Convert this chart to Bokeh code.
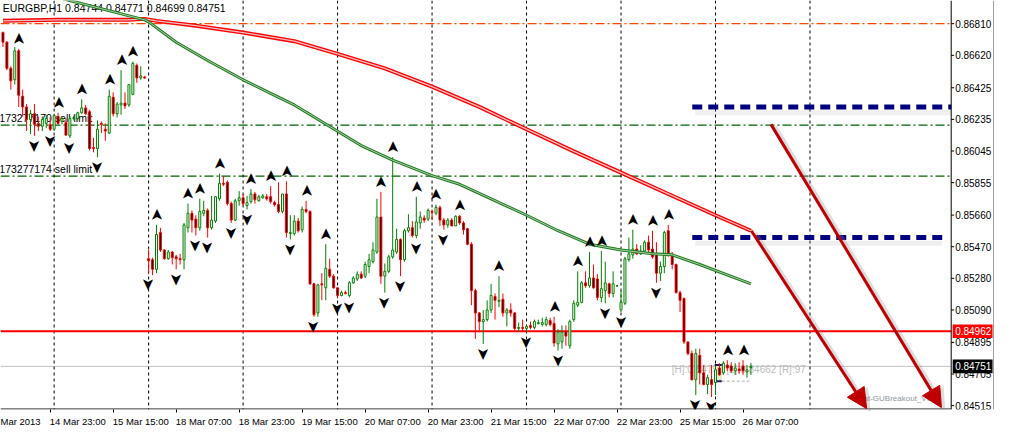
import math
from bokeh.plotting import figure
from bokeh.models import (Range1d, LinearAxis, FixedTicker, Arrow, NormalHead, Span,
                          ColumnDataSource)
from bokeh.core.properties import value
from bokeh.embed import file_html
from bokeh.resources import INLINE

symbol = "EURGBP,H1"

# ---------------- OHLC data (hourly bars, 14 Mar 2013 11:00 .. 26 Mar 2013 09:00) -------------
open_ = [
    0.86757, 0.86699, 0.86542, 0.86473, 0.86647, 0.86374, 0.86310, 0.86234, 0.86269, 0.86211,
    0.86194, 0.86211, 0.86205, 0.86176, 0.86252, 0.86223, 0.86217, 0.86136, 0.86240, 0.86240,
    0.86275, 0.86304, 0.86281, 0.86066, 0.86060, 0.86211, 0.86176, 0.86153, 0.86368, 0.86269,
    0.86322, 0.86333, 0.86322, 0.86385, 0.86560, 0.86484, 0.86490, 0.85398, 0.85392, 0.85334,
    0.85555, 0.85450, 0.85398, 0.85438, 0.85409, 0.85398, 0.85392, 0.85584, 0.85671, 0.85636,
    0.85584, 0.85671, 0.85688, 0.85584, 0.85624, 0.85758, 0.85851, 0.85857, 0.85729, 0.85630,
    0.85746, 0.85764, 0.85717, 0.85741, 0.85787, 0.85746, 0.85764, 0.85770, 0.85770, 0.85735,
    0.85723, 0.85682, 0.85787, 0.85549, 0.85549, 0.85624, 0.85572, 0.85694, 0.85682, 0.85247,
    0.85072, 0.85247, 0.85223, 0.85334, 0.85293, 0.85223, 0.85177, 0.85194, 0.85177, 0.85253,
    0.85276, 0.85305, 0.85293, 0.85351, 0.85380, 0.85438, 0.85648, 0.85293, 0.85322, 0.85409,
    0.85438, 0.85514, 0.85392, 0.85566, 0.85584, 0.85537, 0.85613, 0.85642, 0.85636, 0.85682,
    0.85671, 0.85706, 0.85630, 0.85601, 0.85630, 0.85595, 0.85653, 0.85613, 0.85578, 0.85485,
    0.85206, 0.85072, 0.85020, 0.85032, 0.85090, 0.85171, 0.85142, 0.85154, 0.85072, 0.85090,
    0.85072, 0.84979, 0.84985, 0.84979, 0.84997, 0.84985, 0.85008, 0.85003, 0.85003, 0.85026,
    0.85008, 0.84886, 0.84898, 0.84962, 0.84875, 0.85032, 0.85119, 0.85136, 0.85253, 0.85235,
    0.85282, 0.85276, 0.85165, 0.85206, 0.85247, 0.85189, 0.85235, 0.85090, 0.85130, 0.85392,
    0.85421, 0.85456, 0.85427, 0.85444, 0.85497, 0.85456, 0.85427, 0.85311, 0.85351, 0.85566,
    0.85421, 0.85363, 0.85194, 0.85159, 0.84898, 0.84828, 0.84671, 0.84817, 0.84712, 0.84642,
    0.84671, 0.84654, 0.84741, 0.84712, 0.84759, 0.84753, 0.84724, 0.84735, 0.84753, 0.84718,
    0.84744]
high = [
    0.86763, 0.86705, 0.86554, 0.86670, 0.86659, 0.86414, 0.86327, 0.86292, 0.86327, 0.86252,
    0.86252, 0.86263, 0.86252, 0.86269, 0.86275, 0.86252, 0.86240, 0.86252, 0.86258, 0.86281,
    0.86356, 0.86322, 0.86292, 0.86124, 0.86229, 0.86223, 0.86211, 0.86414, 0.86397, 0.86339,
    0.86531, 0.86397, 0.86444, 0.86583, 0.86571, 0.86554, 0.86496, 0.85450, 0.85404, 0.85601,
    0.85584, 0.85456, 0.85450, 0.85444, 0.85421, 0.85427, 0.85613, 0.85729, 0.85688, 0.85659,
    0.85758, 0.85746, 0.85700, 0.85775, 0.85775, 0.85909, 0.85892, 0.85868, 0.85741, 0.85758,
    0.85804, 0.85787, 0.85775, 0.85816, 0.85799, 0.85781, 0.85787, 0.85787, 0.85834, 0.85746,
    0.85857, 0.85787, 0.85863, 0.85659, 0.85659, 0.85642, 0.85711, 0.85746, 0.85688, 0.85253,
    0.85247, 0.85311, 0.85485, 0.85398, 0.85305, 0.85223, 0.85206, 0.85206, 0.85264, 0.85293,
    0.85322, 0.85322, 0.85380, 0.85427, 0.85497, 0.85758, 0.85799, 0.85369, 0.85421, 0.86008,
    0.85578, 0.85520, 0.85578, 0.85665, 0.85624, 0.85770, 0.85682, 0.85659, 0.85700, 0.85694,
    0.85723, 0.85717, 0.85642, 0.85642, 0.85642, 0.85659, 0.85659, 0.85624, 0.85584, 0.85497,
    0.85218, 0.85078, 0.85090, 0.85148, 0.85247, 0.85189, 0.85293, 0.85189, 0.85101, 0.85130,
    0.85078, 0.85014, 0.85032, 0.85003, 0.85020, 0.85032, 0.85032, 0.85043, 0.85049, 0.85043,
    0.85049, 0.84974, 0.84997, 0.84997, 0.85032, 0.85148, 0.85322, 0.85264, 0.85322, 0.85438,
    0.85363, 0.85305, 0.85444, 0.85380, 0.85253, 0.85322, 0.85241, 0.85206, 0.85409, 0.85525,
    0.85572, 0.85485, 0.85479, 0.85508, 0.85537, 0.85566, 0.85497, 0.85380, 0.85566, 0.85601,
    0.85438, 0.85369, 0.85206, 0.85165, 0.84898, 0.84846, 0.84857, 0.84857, 0.84759, 0.84700,
    0.84759, 0.84753, 0.84770, 0.84782, 0.84788, 0.84776, 0.84770, 0.84776, 0.84788, 0.84759,
    0.84771]
low = [
    0.86670, 0.86531, 0.86414, 0.86444, 0.86310, 0.86252, 0.86165, 0.86147, 0.86136, 0.86165,
    0.86165, 0.86182, 0.86165, 0.86165, 0.86205, 0.86205, 0.86136, 0.86124, 0.86229, 0.86229,
    0.86269, 0.86263, 0.86048, 0.86037, 0.86008, 0.86153, 0.86107, 0.86147, 0.86252, 0.86246,
    0.86263, 0.86298, 0.86310, 0.86380, 0.86455, 0.86473, 0.86478, 0.85305, 0.85299, 0.85311,
    0.85438, 0.85392, 0.85392, 0.85363, 0.85334, 0.85363, 0.85334, 0.85555, 0.85555, 0.85537,
    0.85566, 0.85653, 0.85525, 0.85572, 0.85613, 0.85746, 0.85834, 0.85717, 0.85613, 0.85624,
    0.85717, 0.85717, 0.85694, 0.85729, 0.85729, 0.85741, 0.85758, 0.85746, 0.85729, 0.85711,
    0.85671, 0.85671, 0.85525, 0.85514, 0.85537, 0.85555, 0.85555, 0.85671, 0.85241, 0.85049,
    0.85049, 0.85148, 0.85148, 0.85282, 0.85218, 0.85159, 0.85171, 0.85183, 0.85165, 0.85247,
    0.85264, 0.85276, 0.85282, 0.85311, 0.85369, 0.85427, 0.85247, 0.85194, 0.85311, 0.85398,
    0.85427, 0.85293, 0.85380, 0.85555, 0.85525, 0.85520, 0.85578, 0.85613, 0.85624, 0.85630,
    0.85659, 0.85595, 0.85572, 0.85584, 0.85595, 0.85595, 0.85601, 0.85543, 0.85479, 0.85119,
    0.84916, 0.84956, 0.84886, 0.85020, 0.85072, 0.85032, 0.85107, 0.85049, 0.84991, 0.85049,
    0.84962, 0.84962, 0.84962, 0.84956, 0.84974, 0.84974, 0.85003, 0.84991, 0.84991, 0.84991,
    0.84869, 0.84846, 0.84857, 0.84875, 0.84857, 0.85020, 0.85107, 0.85130, 0.85223, 0.85223,
    0.85218, 0.85148, 0.85136, 0.85130, 0.85165, 0.85165, 0.85229, 0.85078, 0.85119, 0.85380,
    0.85398, 0.85421, 0.85421, 0.85433, 0.85438, 0.85398, 0.85253, 0.85264, 0.85311, 0.85409,
    0.85334, 0.85189, 0.85078, 0.84886, 0.84817, 0.84666, 0.84579, 0.84642, 0.84637, 0.84584,
    0.84567, 0.84579, 0.84695, 0.84700, 0.84724, 0.84712, 0.84700, 0.84706, 0.84700, 0.84683,
    0.84699]
close = [
    0.86699, 0.86542, 0.86467, 0.86647, 0.86380, 0.86310, 0.86234, 0.86269, 0.86205, 0.86194,
    0.86234, 0.86240, 0.86176, 0.86258, 0.86211, 0.86240, 0.86141, 0.86240, 0.86246, 0.86275,
    0.86304, 0.86269, 0.86060, 0.86060, 0.86176, 0.86205, 0.86165, 0.86374, 0.86269, 0.86327,
    0.86333, 0.86316, 0.86444, 0.86571, 0.86484, 0.86496, 0.86484, 0.85386, 0.85334, 0.85543,
    0.85450, 0.85398, 0.85438, 0.85404, 0.85398, 0.85392, 0.85601, 0.85671, 0.85630, 0.85584,
    0.85682, 0.85688, 0.85584, 0.85630, 0.85770, 0.85851, 0.85845, 0.85729, 0.85630, 0.85746,
    0.85764, 0.85729, 0.85735, 0.85787, 0.85752, 0.85770, 0.85775, 0.85758, 0.85741, 0.85723,
    0.85682, 0.85787, 0.85555, 0.85555, 0.85624, 0.85566, 0.85694, 0.85682, 0.85247, 0.85061,
    0.85241, 0.85241, 0.85340, 0.85293, 0.85223, 0.85177, 0.85194, 0.85189, 0.85253, 0.85282,
    0.85305, 0.85282, 0.85363, 0.85392, 0.85450, 0.85648, 0.85293, 0.85322, 0.85409, 0.85450,
    0.85514, 0.85392, 0.85566, 0.85584, 0.85537, 0.85619, 0.85648, 0.85630, 0.85688, 0.85677,
    0.85706, 0.85630, 0.85601, 0.85630, 0.85595, 0.85653, 0.85613, 0.85572, 0.85485, 0.85206,
    0.85072, 0.85020, 0.85032, 0.85090, 0.85177, 0.85148, 0.85148, 0.85072, 0.85090, 0.85072,
    0.84979, 0.84985, 0.84979, 0.84991, 0.84985, 0.85020, 0.85014, 0.85014, 0.85032, 0.85003,
    0.84892, 0.84956, 0.84956, 0.84933, 0.85020, 0.85130, 0.85136, 0.85253, 0.85235, 0.85282,
    0.85223, 0.85165, 0.85218, 0.85253, 0.85189, 0.85247, 0.85235, 0.85136, 0.85398, 0.85427,
    0.85456, 0.85427, 0.85444, 0.85497, 0.85450, 0.85409, 0.85311, 0.85351, 0.85555, 0.85421,
    0.85363, 0.85194, 0.85148, 0.84898, 0.84828, 0.84671, 0.84828, 0.84712, 0.84642, 0.84683,
    0.84642, 0.84730, 0.84700, 0.84770, 0.84741, 0.84724, 0.84741, 0.84724, 0.84724, 0.84730,
    0.84751]
bars = list(range(len(close)))

# Fractal bars (up = above highs, down = below lows)
up_fractals = [4, 14, 20, 27, 30, 33, 39, 47, 50, 55, 63, 68, 72, 77, 82, 96, 99, 105, 110, 116,
               126, 140, 146, 149, 152, 160, 165, 169, 184, 188]
down_fractals = [8, 12, 17, 24, 37, 44, 49, 52, 58, 62, 73, 79, 85, 88, 97, 101, 105, 112, 122,
                 133, 141, 153, 157, 166, 176, 180]

# Moving averages (read at selected bars)
ma_slow_bars = [0, 14, 32, 36, 39, 49, 61, 74, 85, 97, 109, 121, 133, 145, 157, 169, 181, 190]
ma_slow = [0.86827, 0.86833, 0.86833, 0.86839, 0.86827, 0.86798, 0.86757, 0.86705, 0.86629,
           0.86542, 0.86432, 0.86310, 0.86176, 0.86043, 0.85915, 0.85787, 0.85659, 0.85566]
ma_fast_bars = [0, 17, 36, 37, 44, 52, 61, 68, 74, 91, 99, 109, 116, 124, 133, 141, 149, 157,
                165, 170, 177, 190]
ma_fast = [0.87054, 0.86949, 0.86833, 0.86821, 0.86699, 0.86589, 0.86473, 0.86391, 0.86322,
           0.86078, 0.85990, 0.85897, 0.85845, 0.85758, 0.85659, 0.85566, 0.85485, 0.85450,
           0.85427, 0.85421, 0.85363, 0.85247]

# Levels
tp_level = 0.86810
sell_limits = [0.86200, 0.85894]
sell_limit_names = ["173277170 sell limit", "173277174 sell limit"]
red_level = 0.84962
bid = close[-1]
box_high, box_low, box_range = 0.84759, 0.84662, 97

# Drawn objects (bar index, price)
trend_lines = [(175.1, 0.86310), (175.1, 0.85525)]
trend_line_ends = [None, 238.6]
arrows = [((195.1, 0.86205), (238.4, 0.84503)), ((190.1, 0.85566), (219.4, 0.84497))]

# Axes
day_starts = [13, 37, 61, 85, 109, 133, 157, 181, 205]
time_label_bars = [-3, 12, 28, 44, 60, 76, 92, 108, 124, 140, 156, 172, 188]
time_labels = ["Mar 2013", "14 Mar 23:00", "15 Mar 15:00", "18 Mar 07:00", "18 Mar 23:00",
               "19 Mar 15:00", "20 Mar 07:00", "20 Mar 23:00", "21 Mar 15:00", "22 Mar 07:00",
               "22 Mar 23:00", "25 Mar 15:00", "26 Mar 07:00"]
price_ticks = [0.86810, 0.86620, 0.86425, 0.86235, 0.86045, 0.85855, 0.85660, 0.85470,
               0.85280, 0.85090, 0.84895, 0.84705, 0.84515]

# ---------------------------------------------------------------------------------------------
FONT = "Liberation Sans"
X0, X_AX, X1 = -0.625, 240.875, 251.875     # left edge, price-scale edge, right edge (bars)
Y0, Y1 = 0.844918, 0.869494
PX = 0.25                                    # one screen px in bars (approx.)
PY = (Y1 - Y0) / 423.0                       # one screen px in price (approx.)

p = figure(width=994, height=429, x_range=Range1d(X0, X1), y_range=Range1d(Y0, Y1),
           output_backend="svg", toolbar_location=None,
           x_axis_location=None, y_axis_location=None,
           min_border_left=0, min_border_top=0, min_border_right=0, min_border_bottom=0)
p.grid.visible = False
p.outline_line_color = None
p.background_fill_color = "white"

# time axis: labels start at the tick (labels shifted right by 7 bars, tick marks as minor ticks)
SHIFT = 7
xax = LinearAxis(ticker=FixedTicker(ticks=[b + SHIFT for b in time_label_bars],
                                    minor_ticks=time_label_bars),
                 major_label_overrides={b + SHIFT: t for b, t in zip(time_label_bars, time_labels)},
                 axis_line_color=None, major_tick_out=0, major_tick_in=0,
                 minor_tick_out=3, minor_tick_in=0, minor_tick_line_color="black",
                 major_label_standoff=3, major_label_text_font=FONT,
                 major_label_text_font_size="9.5px", major_label_text_color="black")
p.add_layout(xax, "below")

# day separators
for b in day_starts:
    p.add_layout(Span(location=b, dimension="height", line_color="black", line_dash="3 3",
                      line_width=1, level="underlay"))

# order / level lines (up to the price scale)
p.segment(x0=[X0], x1=[X_AX], y0=[tp_level], y1=[tp_level], line_color="#FF4500",
          line_dash="9 3 2 3", line_width=1.2, level="underlay")
p.segment(x0=[X0] * 2, x1=[X_AX] * 2, y0=sell_limits, y1=sell_limits, line_color="#006400",
          line_dash="9 3 2 3", line_width=1.2, level="underlay")
p.segment(x0=[X0], x1=[X_AX], y0=[bid], y1=[bid], line_color="#C0C0C0", line_width=1,
          level="underlay")

# texts under the candles
title = f"{symbol}  {open_[-1]:.5f} {high[-1]:.5f} {low[-1]:.5f} {close[-1]:.5f}"
p.text(x=[X0 + 0.6], y=[Y1], text=[title], text_font=value(FONT), text_font_size="10.5px",
       text_color="black", text_baseline="top", text_align="left", y_offset=1, level="underlay")
p.text(x=[X0 - 0.3] * 2, y=sell_limits, text=sell_limit_names, text_font=value(FONT),
       text_font_size="10.5px", text_color="black", text_baseline="bottom", text_align="left",
       y_offset=-1, level="underlay")
p.text(x=[169.9], y=[0.84735], text=[f"[H]:{box_high:.5f} [L]:{box_low:.5f} [R]:{box_range}"],
       text_font=value(FONT), text_font_size="10px", text_color="#BDBDBD",
       text_baseline="middle", text_align="left", level="underlay")

# breakout box
p.quad(left=[180.8], right=[182.6], top=[box_high], bottom=[box_low], fill_color="#EEE8C4",
       line_color=None)
p.segment(x0=[180.8, 180.8], x1=[182.6, 182.6], y0=[box_high, box_low], y1=[box_high, box_low],
          line_color="#1A1A6E", line_width=2)
p.segment(x0=[182.6], x1=[189.6], y0=[box_low], y1=[box_low], line_color="#B0B0B0",
          line_dash="3 2", line_width=1)

# red level
p.segment(x0=[X0], x1=[X_AX], y0=[red_level], y1=[red_level], line_color="#FF0000", line_width=2)

# candles
bull = [i for i in bars if close[i] >= open_[i]]
bear = [i for i in bars if close[i] < open_[i]]
def src(idx):
    return ColumnDataSource(dict(
        x=idx, hi=[high[i] for i in idx], lo=[low[i] for i in idx],
        top=[max(open_[i], close[i]) for i in idx], bot=[min(open_[i], close[i]) for i in idx]))
sb, sr = src(bull), src(bear)
p.segment(x0="x", x1="x", y0="hi", y1="lo", source=sb, line_color="#008000", line_width=1)
p.segment(x0="x", x1="x", y0="hi", y1="lo", source=sr, line_color="#FF0000", line_width=1)
p.vbar(x="x", width=0.5, top="top", bottom="bot", source=sb, fill_color="white",
       line_color="#008000", line_width=1)
p.vbar(x="x", width=0.5, top="top", bottom="bot", source=sr, fill_color="black",
       line_color="#FF0000", line_width=1)

# moving averages
p.line(ma_slow_bars, ma_slow, line_color="#FF0000", line_width=4)
p.line(ma_slow_bars, ma_slow, line_color="#E9C2C2", line_width=1.3)
p.line(ma_fast_bars, ma_fast, line_color="#1E7B1E", line_width=3)
p.line(ma_fast_bars, ma_fast, line_color="#A9CFA9", line_width=1)

# trend lines (navy dashed with soft shadow)
for (b, lv), e in zip(trend_lines, trend_line_ends):
    end = X_AX if e is None else e
    p.line([b + 0.8, end], [lv - 6 * PY, lv - 6 * PY], line_color="#808080",
           line_alpha=0.13, line_width=5)
    p.line([b, end], [lv, lv], line_color="#000080", line_width=5, line_dash="10 6")

# arrows with shadow
for (s, e) in arrows:
    p.add_layout(Arrow(x_start=s[0] + 1.0, y_start=s[1] - 2 * PY, x_end=e[0] + 1.0,
                       y_end=e[1] - 2 * PY, line_color="#909090", line_alpha=0.3,
                       line_width=4,
                       end=NormalHead(size=21, fill_color="#909090", fill_alpha=0.3,
                                      line_color=None)))
    p.add_layout(Arrow(x_start=s[0], y_start=s[1], x_end=e[0], y_end=e[1],
                       line_color="#C00000", line_width=3,
                       end=NormalHead(size=20, fill_color="#C00000", line_color="#C00000")))

# expert name
p.text(x=[218.6], y=[0.84556], text=["at-GUBreakout_V0."], text_font=value(FONT),
       text_font_size="8px", text_color="#8C96A0", text_baseline="middle", text_align="left")

# fractals
p.text(x=up_fractals, y=[high[i] for i in up_fractals], text=["\u27a4"] * len(up_fractals),
       angle=math.pi / 2, text_align="center", text_baseline="middle", y_offset=-10,
       text_font=value("DejaVu Sans"), text_font_size="16px", text_color="black")
p.text(x=down_fractals, y=[low[i] for i in down_fractals], text=["\u27a4"] * len(down_fractals),
       angle=-math.pi / 2, text_align="center", text_baseline="middle", y_offset=10,
       text_font=value("DejaVu Sans"), text_font_size="16px", text_color="black")

# ---- price scale (drawn at the right edge of the chart area) ----
p.add_layout(Span(location=X_AX, dimension="height", line_color="black", line_width=1))
p.segment(x0=[X0], x1=[X_AX], y0=[Y0 + 0.5 * PY], y1=[Y0 + 0.5 * PY], line_color="black",
          line_width=1)
p.segment(x0=[X_AX] * len(price_ticks), x1=[X_AX + 3 * PX] * len(price_ticks),
          y0=price_ticks, y1=price_ticks, line_color="black", line_width=1)
p.text(x=[X_AX + 4 * PX] * len(price_ticks), y=price_ticks,
       text=[f"{t:.5f}" for t in price_ticks], text_font=value(FONT), text_font_size="10px",
       text_color="black", text_baseline="middle", text_align="left")
# current-level tags
tag_levels = [red_level, bid]
tag_colors = ["#FF0000", "#000000"]
p.quad(left=[X_AX + 1.5 * PX] * 2, right=[X_AX + 42 * PX] * 2,
       top=[lv + 7 * PY for lv in tag_levels], bottom=[lv - 7 * PY for lv in tag_levels],
       fill_color=tag_colors, line_color=None)
p.text(x=[X_AX + 4 * PX] * 2, y=tag_levels, text=[f"{lv:.5f}" for lv in tag_levels],
       text_font=value(FONT), text_font_size="10px", text_color="white",
       text_baseline="middle", text_align="left")
# window edge on the right
p.add_layout(Span(location=X1, dimension="height", line_color="#404040", line_width=2))

open("out.html", "w").write(file_html(p, INLINE))
